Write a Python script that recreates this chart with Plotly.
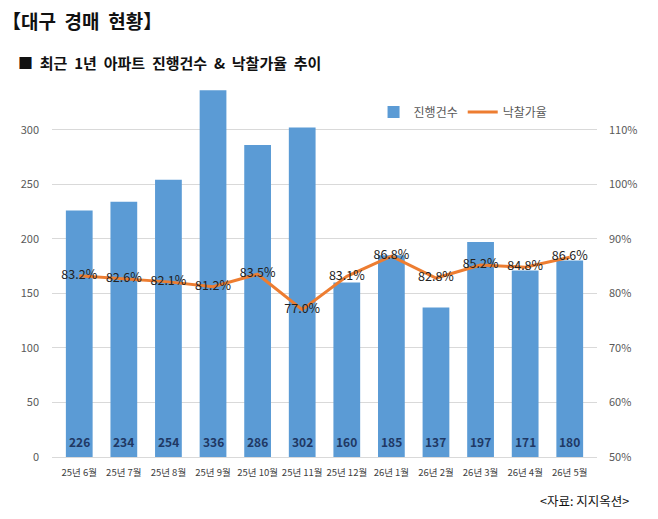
import plotly.graph_objects as go

months = ["25년 6월", "25년 7월", "25년 8월", "25년 9월", "25년 10월", "25년 11월",
          "25년 12월", "26년 1월", "26년 2월", "26년 3월", "26년 4월", "26년 5월"]
counts = [226, 234, 254, 336, 286, 302, 160, 185, 137, 197, 171, 180]
rates = [83.2, 82.6, 82.1, 81.2, 83.5, 77.0, 83.1, 86.8, 82.8, 85.2, 84.8, 86.6]

FONT = "Noto Sans CJK KR, Noto Sans, sans-serif"

fig = go.Figure()
fig.add_trace(go.Bar(
    x=months, y=counts, name="진행건수",
    marker=dict(color="#5B9BD5", line=dict(width=0)),
    yaxis="y",
))
fig.add_trace(go.Scatter(
    x=months, y=rates, name="낙찰가율", mode="lines+text",
    line=dict(color="#ED7D31", width=3),
    text=[f"{r:.1f}%" for r in rates], textposition="middle center",
    textfont=dict(size=12.5, color="#222222", family=FONT),
    yaxis="y2",
))

for m, c in zip(months, counts):
    fig.add_annotation(x=m, y=0, xref="x", yref="y", text=f"<b>{c}</b>",
                       showarrow=False, yanchor="bottom", yshift=5,
                       font=dict(size=12, color="#1F3864", family=FONT))

fig.update_layout(
    width=658, height=519,
    margin=dict(l=52, r=61, t=86, b=62, autoexpand=False),
    paper_bgcolor="white", plot_bgcolor="white",
    font=dict(family=FONT, color="#595959"),
    bargap=0.4,
    showlegend=True,
    legend=dict(orientation="h", x=0.59, y=0.93, xanchor="left", yanchor="middle",
                font=dict(size=12, color="#595959"), bgcolor="rgba(0,0,0,0)",
                itemwidth=30, tracegroupgap=0),
    xaxis=dict(tickfont=dict(size=9.5, color="#404040"), showgrid=False, tickangle=0,
               showline=False, ticks="", ticklabelstandoff=8, automargin=False),
    yaxis=dict(range=[0, 340], dtick=50, tick0=0, showgrid=True, gridcolor="#D9D9D9",
               zeroline=True, zerolinecolor="#D9D9D9", zerolinewidth=1, automargin=False,
               tickfont=dict(size=11, color="#595959"), ticks="", ticklabelstandoff=12),
    yaxis2=dict(range=[50, 118], dtick=10, tick0=50, overlaying="y", side="right",
                showgrid=False, zeroline=False, ticksuffix="%", automargin=False,
                tickfont=dict(size=11, color="#595959"), ticks="", ticklabelstandoff=11),
)

fig.add_annotation(xref="paper", yref="paper", x=-52/545, y=1, xanchor="left", yanchor="top",
                   yshift=86 - 5, text="<b>【대구&nbsp; 경매&nbsp; 현황】</b>", showarrow=False,
                   font=dict(size=19, color="#111111", family=FONT))
fig.add_annotation(xref="paper", yref="paper", x=-36/545, y=1, xanchor="left", yanchor="middle",
                   yshift=86 - 62,
                   text="<b>■&nbsp; 최근&nbsp; 1년&nbsp; 아파트&nbsp; 진행건수&nbsp; &amp;&nbsp; 낙찰가율&nbsp; 추이</b>",
                   showarrow=False, font=dict(size=15, color="#111111", family=FONT))
fig.add_annotation(xref="paper", yref="paper", x=1, y=0, xanchor="right", yanchor="middle",
                   xshift=34, yshift=-(500 - 457), text="<자료: 지지옥션>",
                   showarrow=False, font=dict(size=12.5, color="#111111", family=FONT))

fig.write_html("out.html")
